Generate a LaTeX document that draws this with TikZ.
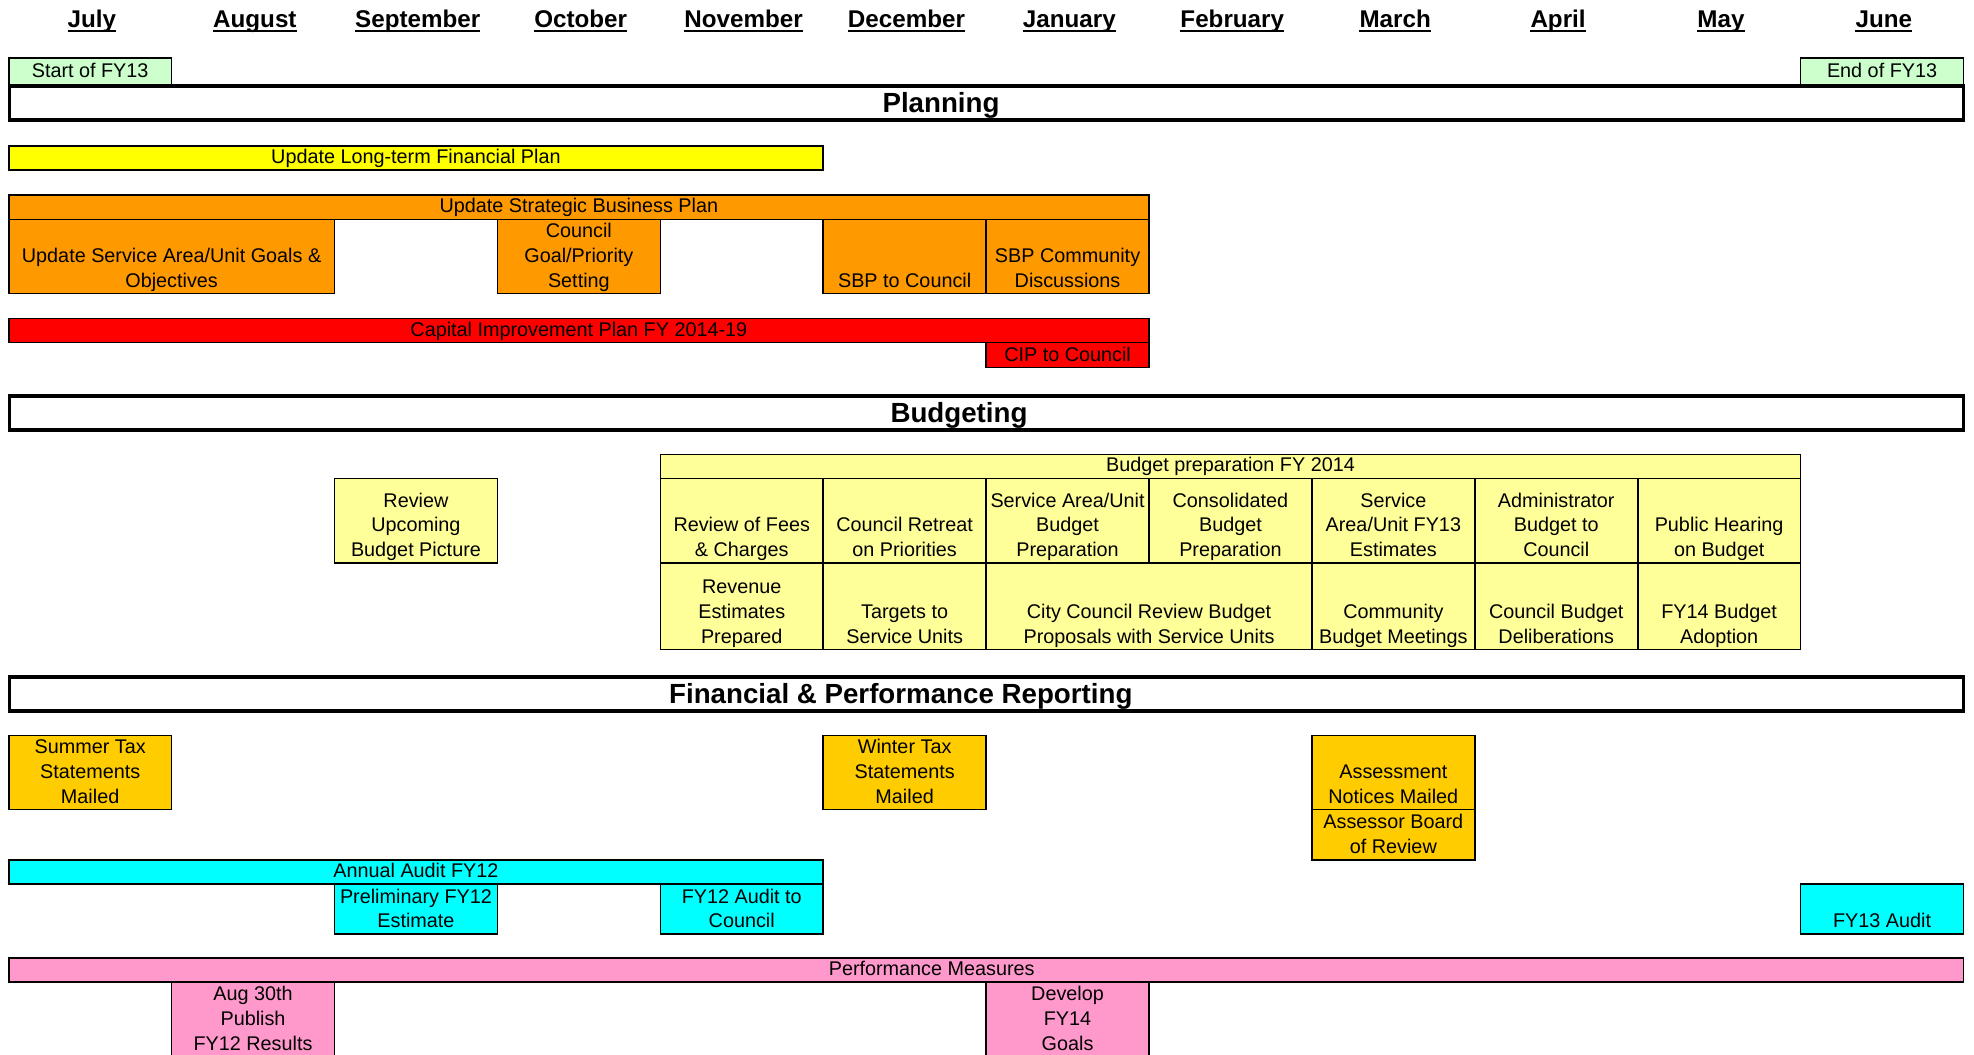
\documentclass[tikz,border=0pt]{standalone}
\usepackage{fontspec}
\setmainfont{Liberation Sans}

\definecolor{fyGreen}{HTML}{CCFFCC}
\definecolor{lfpYellow}{HTML}{FFFF00}
\definecolor{sbpOrange}{HTML}{FF9900}
\definecolor{cipRed}{HTML}{FF0000}
\definecolor{budYellow}{HTML}{FFFF99}
\definecolor{taxGold}{HTML}{FFCC00}
\definecolor{auditCyan}{HTML}{00FFFF}
\definecolor{perfPink}{HTML}{FF99CC}

\newcommand\cellfont{\fontsize{19.8}{24.6}\selectfont}
\newcommand\headfont{\fontsize{27.7}{32}\selectfont\bfseries}
\newcommand\monthfont{\fontsize{24.2}{28}\selectfont\bfseries}

% \gridcell{name}{first col}{last col}{top}{bottom}{fill}{text}
\newcommand\gridcell[7]{%
  \path[cellbox, fill=#6] ({cx(#2)},#4) rectangle ({cx(#3)},#5);
  \node[celltext] (#1) at ({(cx(#2)+cx(#3))/2},#5+1.1) {#7};
}
% same, with the text centred at a given x
\newcommand\gridcellat[8]{%
  \path[cellbox, fill=#6] ({cx(#2)},#4) rectangle ({cx(#3)},#5);
  \node[celltext] (#1) at (#7,#5+1.1) {#8};
}

\begin{document}
\begin{tikzpicture}[x=1pt,y=-1pt,
  declare function={cx(\i)=8.7+162.9*\i;},
  cellbox/.style={draw=black, line width=1.6pt},
  sectionbar/.style={draw=black, line width=3.8pt, fill=white},
  celltext/.style={anchor=south, inner sep=0pt, align=center, font=\cellfont, execute at end node=\strut},
  headtext/.style={anchor=base, inner sep=0pt, font=\headfont},
  monthtext/.style={anchor=base, inner sep=0pt, font=\monthfont},
]
\useasboundingbox (0,0) rectangle (1974,1055);
\clip (0,0) rectangle (1974,1055);
\fill[white] (0,0) rectangle (1974,1055);

% month headings
\foreach \m [count=\i from 0] in {July,August,September,October,November,December,January,February,March,April,May,June}{
  \node[monthtext] (month\i) at ({cx(\i+0.5)+1.8},27.4) {\m};
  \draw[line width=1.8pt] ([yshift=-3.3pt]month\i.base west) -- ([yshift=-3.3pt]month\i.base east);
}

% fiscal year markers
\gridcell{startfy}{0}{1}{58}{84.4}{fyGreen}{Start of FY13}
\gridcell{endfy}{11}{12}{58}{84.4}{fyGreen}{End of FY13}

% ---- Planning ----
\draw[sectionbar] (9.4,86.3) rectangle (1963.5,120.2);
\node[headtext] (planning) at (941,112.6) {Planning};

\gridcell{lfp}{0}{5}{146}{170.2}{lfpYellow}{Update Long-term Financial Plan}

\gridcell{sbp}{0}{7}{195.2}{219.4}{sbpOrange}{Update Strategic Business Plan}
\gridcell{goals}{0}{2}{219.4}{293.5}{sbpOrange}{Update Service Area/Unit Goals \&\\Objectives}
\gridcell{priority}{3}{4}{219.4}{293.5}{sbpOrange}{Council\\Goal/Priority\\Setting}
\gridcell{sbpcouncil}{5}{6}{219.4}{293.5}{sbpOrange}{SBP to Council}
\gridcell{sbpcomm}{6}{7}{219.4}{293.5}{sbpOrange}{SBP Community\\Discussions}

\gridcell{cip}{0}{7}{318.5}{342.6}{cipRed}{Capital Improvement Plan FY 2014-19}
\gridcell{cipcouncil}{6}{7}{342.6}{367.6}{cipRed}{CIP to Council}

% ---- Budgeting ----
\draw[sectionbar] (9.4,396) rectangle (1963.5,429.9);
\node[headtext] (budgeting) at (959,422.3) {Budgeting};

\gridcell{upcoming}{2}{3}{478.4}{562.8}{budYellow}{Review\\Upcoming\\Budget Picture}

\gridcell{budprep}{4}{11}{454.5}{478.4}{budYellow}{Budget preparation FY 2014}
\gridcell{fees}{4}{5}{478.4}{562.8}{budYellow}{Review of Fees\\\& Charges}
\gridcell{retreat}{5}{6}{478.4}{562.8}{budYellow}{Council Retreat\\on Priorities}
\gridcell{unitprep}{6}{7}{478.4}{562.8}{budYellow}{Service Area/Unit\\Budget\\Preparation}
\gridcell{consol}{7}{8}{478.4}{562.8}{budYellow}{Consolidated\\Budget\\Preparation}
\gridcell{estimates}{8}{9}{478.4}{562.8}{budYellow}{Service\\Area/Unit FY13\\Estimates}
\gridcell{admin}{9}{10}{478.4}{562.8}{budYellow}{Administrator\\Budget to\\Council}
\gridcell{hearing}{10}{11}{478.4}{562.8}{budYellow}{Public Hearing\\on Budget}

\gridcell{revenue}{4}{5}{562.8}{649.6}{budYellow}{Revenue\\Estimates\\Prepared}
\gridcell{targets}{5}{6}{562.8}{649.6}{budYellow}{Targets to\\Service Units}
\gridcell{review}{6}{8}{562.8}{649.6}{budYellow}{City Council Review Budget\\Proposals with Service Units}
\gridcell{community}{8}{9}{562.8}{649.6}{budYellow}{Community\\Budget Meetings}
\gridcell{deliberate}{9}{10}{562.8}{649.6}{budYellow}{Council Budget\\Deliberations}
\gridcell{adoption}{10}{11}{562.8}{649.6}{budYellow}{FY14 Budget\\Adoption}

% ---- Financial & Performance Reporting ----
\draw[sectionbar] (9.4,676.7) rectangle (1963.5,710.7);
\node[headtext] (reporting) at (900.8,703.1) {Financial \& Performance Reporting};

\gridcell{summertax}{0}{1}{735.3}{809.5}{taxGold}{Summer Tax\\Statements\\Mailed}
\gridcell{wintertax}{5}{6}{735.3}{809.5}{taxGold}{Winter Tax\\Statements\\Mailed}
\gridcell{notices}{8}{9}{735.3}{809.5}{taxGold}{Assessment\\Notices Mailed}
\gridcell{board}{8}{9}{809.5}{859.9}{taxGold}{Assessor Board\\of Review}

\gridcell{audit}{0}{5}{859.9}{883.8}{auditCyan}{Annual Audit FY12}
\gridcell{prelim}{2}{3}{883.8}{934.2}{auditCyan}{Preliminary FY12\\Estimate}
\gridcell{auditcouncil}{4}{5}{883.8}{934.2}{auditCyan}{FY12 Audit to\\Council}
\gridcell{fy13audit}{11}{12}{883.8}{934.2}{auditCyan}{FY13 Audit}

\gridcellat{perf}{0}{12}{958.1}{982.2}{perfPink}{931.7}{Performance Measures}
\gridcell{publish}{1}{2}{982.2}{1056.5}{perfPink}{Aug 30th\\Publish\\FY12 Results}
\gridcell{develop}{6}{7}{982.2}{1056.5}{perfPink}{Develop\\FY14\\Goals}
\end{tikzpicture}
\end{document}
